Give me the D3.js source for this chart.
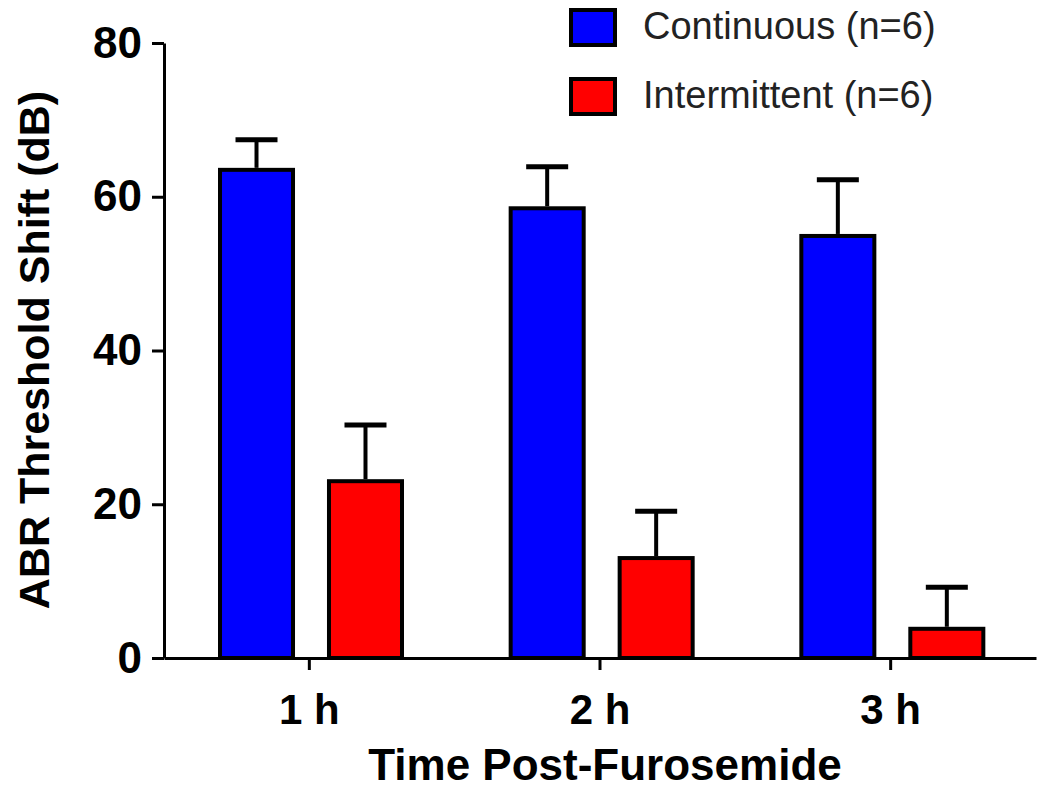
<!DOCTYPE html>
<meta charset="utf-8">
<script src="https://d3js.org/d3.v7.min.js"></script>
<style>
  body { margin: 0; background: #fff; }
  text { font-family: "Liberation Sans", Arial, sans-serif; }
</style>
<div id="chart"></div>
<script>
// data
var groups = ["1 h", "2 h", "3 h"];
var seriesNames = ["Continuous (n=6)", "Intermittent (n=6)"];
var seriesColors = ["#0000ff", "#ff0000"];
var continuousMean = [63.5, 58.5, 54.9];
var continuousErr = [3.9, 5.4, 7.3];
var intermittentMean = [23.0, 13.0, 3.8];
var intermittentErr = [7.3, 6.1, 5.4];
var yTicks = [0, 20, 40, 60, 80];

var width = 1050, height = 797;

var svg = d3.select("#chart")
  .append("svg")
    .attr("width", width)
    .attr("height", height);

// one row per bar
var rows = [];
groups.forEach(function(g, i) {
  rows.push({group: g, series: seriesNames[0], color: seriesColors[0], value: continuousMean[i], err: continuousErr[i]});
  rows.push({group: g, series: seriesNames[1], color: seriesColors[1], value: intermittentMean[i], err: intermittentErr[i]});
});

var x0 = d3.scaleBand()
  .domain(groups)
  .range([164, 1036]);

var x1 = d3.scaleBand()
  .domain(seriesNames)
  .range([56, 238])
  .paddingInner(0.33);

var y = d3.scaleLinear()
  .domain([0, 80])
  .range([658, 43]);

// bars
svg.selectAll("rect.bar")
  .data(rows)
  .enter()
  .append("rect")
    .attr("class", "bar")
    .attr("x", function(d) { return x0(d.group) + x1(d.series); })
    .attr("y", function(d) { return y(d.value); })
    .attr("width", x1.bandwidth())
    .attr("height", function(d) { return y(0) - y(d.value); })
    .style("fill", function(d) { return d.color; })
    .style("stroke", "#000")
    .style("stroke-width", 4);

// error bars (upper only)
var errG = svg.selectAll("g.err")
  .data(rows)
  .enter()
  .append("g")
    .attr("class", "err")
    .attr("transform", function(d) { return "translate(" + (x0(d.group) + x1(d.series) + x1.bandwidth() / 2) + ",0)"; });

errG.append("line")
  .attr("x1", 0).attr("x2", 0)
  .attr("y1", function(d) { return y(d.value) - 2; })
  .attr("y2", function(d) { return y(d.value + d.err); })
  .style("stroke", "#000")
  .style("stroke-width", 4);

errG.append("line")
  .attr("x1", -21).attr("x2", 21)
  .attr("y1", function(d) { return y(d.value + d.err); })
  .attr("y2", function(d) { return y(d.value + d.err); })
  .style("stroke", "#000")
  .style("stroke-width", 5);

// y axis
var yAxis = svg.append("g")
  .attr("transform", "translate(164,0)")
  .call(d3.axisLeft(y).tickValues(yTicks).tickSize(12).tickSizeOuter(0).tickPadding(10));
yAxis.select(".domain").style("stroke-width", 3);
yAxis.selectAll(".tick line").style("stroke-width", 3);
yAxis.selectAll(".tick text")
  .style("font-size", "44px")
  .style("font-weight", "bold")
  .style("fill", "#000");

// x axis
var xAxis = svg.append("g")
  .attr("transform", "translate(0,658)")
  .call(d3.axisBottom(x0).tickSize(12).tickSizeOuter(0).tickPadding(24));
xAxis.select(".domain").style("stroke-width", 3);
xAxis.selectAll(".tick line").style("stroke-width", 3);
xAxis.selectAll(".tick text")
  .style("font-size", "42px")
  .style("font-weight", "bold")
  .style("fill", "#000");

// axis titles
svg.append("text")
  .attr("transform", "translate(34,350) rotate(-90)")
  .attr("text-anchor", "middle")
  .attr("dominant-baseline", "central")
  .style("font-size", "43px")
  .style("font-weight", "bold")
  .text("ABR Threshold Shift (dB)");

svg.append("text")
  .attr("x", 605)
  .attr("y", 764)
  .attr("text-anchor", "middle")
  .attr("dominant-baseline", "central")
  .style("font-size", "44px")
  .style("font-weight", "bold")
  .text("Time Post-Furosemide");

// legend
var legend = svg.selectAll("g.legend")
  .data(seriesNames)
  .enter()
  .append("g")
    .attr("class", "legend")
    .attr("transform", function(d, i) { return "translate(571," + (10 + i * 69) + ")"; });

legend.append("rect")
  .attr("width", 44)
  .attr("height", 35)
  .style("fill", function(d, i) { return seriesColors[i]; })
  .style("stroke", "#000")
  .style("stroke-width", 4);

legend.append("text")
  .attr("x", 72)
  .attr("y", 16)
  .attr("dominant-baseline", "central")
  .style("font-size", "38px")
  .style("fill", "#222")
  .text(function(d) { return d; });
</script>
